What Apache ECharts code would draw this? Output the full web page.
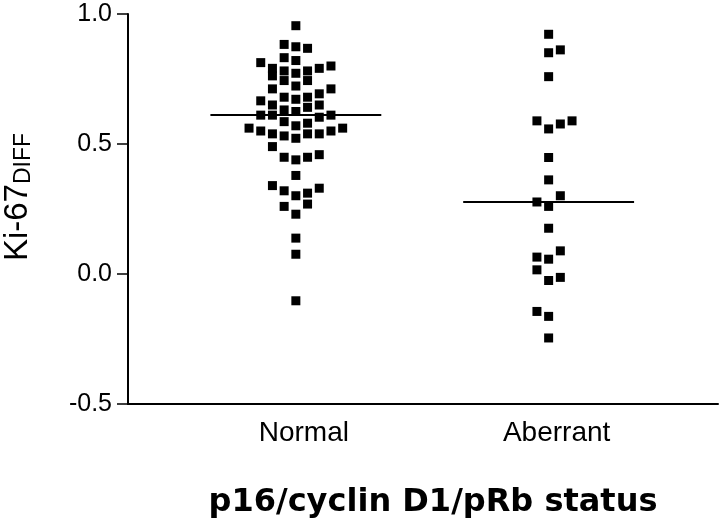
<!DOCTYPE html>
<html>
<head>
<meta charset="utf-8">
<script src="https://cdn.jsdelivr.net/npm/echarts@6/dist/echarts.min.js"></script>
<style>
html,body{margin:0;padding:0;background:#fff;}
#chart{width:720px;height:521px;}
</style>
</head>
<body>
<div id="chart"></div>
<script>
// ---- data ----
const categories = ['Normal', 'Aberrant'];
const categoryPositions = [1, 2];

// Ki-67 DIFF values and their beeswarm column (offset index) per point
const normalValues = [0.955,0.883,0.874,0.868,0.813,0.832,0.821,0.791,0.762,0.781,0.772,0.781,0.791,0.800,
  0.744,0.723,0.744,0.712,0.712,0.680,0.672,0.680,0.693,0.666,0.650,0.641,0.650,0.631,0.625,
  0.611,0.611,0.603,0.611,0.586,0.570,0.580,0.561,0.550,0.539,0.531,0.522,0.539,0.539,0.550,0.561,
  0.490,0.449,0.439,0.449,0.459,0.379,0.340,0.320,0.301,0.311,0.330,0.260,0.269,0.230,0.138,0.076,-0.103];
const normalCols = [0,-1,0,1,-3,-1,0,-2,-2,-1,0,1,2,3,
  -1,0,1,-2,3,-1,0,1,2,-3,-2,1,2,-1,0,
  -3,-2,2,3,-1,0,1,-4,-3,-2,-1,0,1,2,3,4,
  -2,-1,0,1,2,0,-2,-1,0,1,2,-1,1,0,0,0,0];

const aberrantValues = [0.922,0.851,0.862,0.759,0.589,0.558,0.577,0.589,0.448,0.362,0.301,0.277,0.260,
  0.176,0.089,0.065,0.057,0.016,-0.025,-0.013,-0.144,-0.163,-0.246];
const aberrantCols = [0,0,1,0,-1,0,1,2,0,0,1,-1,0,0,1,-1,0,-1,0,1,-1,0,0];

const groupMeans = [0.612, 0.277];

const yTickValues = [-0.5, 0.0, 0.5, 1.0];
const yAxisTitle = 'Ki-67';
const yAxisSub = 'DIFF';
const xAxisTitle = 'p16/cyclin D1/pRb status';

// ---- layout constants ----
const swarmStep = 0.0463;   // horizontal spacing of beeswarm columns (axis units)
const meanHalfWidth = 0.338; // half length of the mean bars (axis units)

const normalData = normalValues.map((v, i) => [categoryPositions[0] + normalCols[i] * swarmStep, v]);
const aberrantData = aberrantValues.map((v, i) => [categoryPositions[1] + aberrantCols[i] * swarmStep, v]);

const meanSeries = groupMeans.map((m, i) => ({
  type: 'line',
  data: [[categoryPositions[i] - meanHalfWidth, m], [categoryPositions[i] + meanHalfWidth, m]],
  symbol: 'none',
  lineStyle: { color: '#000', width: 2 },
  silent: true,
  animation: false,
  z: 1
}));

const chart = echarts.init(document.getElementById('chart'), null, { renderer: 'canvas' });
chart.setOption({
  backgroundColor: '#fff',
  animation: false,
  grid: { left: 128, right: 2, top: 14, bottom: 117, containLabel: false, outerBoundsMode: 'none' },
  xAxis: {
    type: 'value',
    min: 0.336,
    max: 2.67,
    splitLine: { show: false },
    axisTick: { show: false },
    axisLine: { onZero: false, lineStyle: { color: '#000', width: 2 } },
    axisLabel: {
      customValues: categoryPositions,
      formatter: (v) => categories[categoryPositions.indexOf(Math.round(v))] || '',
      color: '#000',
      fontFamily: 'Liberation Sans, Arial, sans-serif',
      fontSize: 28,
      margin: 15,
      padding: [0, 0, 0, 16]
    },
    name: xAxisTitle,
    nameLocation: 'middle',
    nameGap: 83,
    nameTextStyle: {
      color: '#000',
      fontFamily: 'DejaVu Sans, sans-serif',
      fontWeight: 'bold',
      fontSize: 32,
      padding: [0, 0, 0, 20]
    }
  },
  yAxis: {
    type: 'value',
    min: yTickValues[0],
    max: yTickValues[yTickValues.length - 1],
    interval: 0.5,
    splitLine: { show: false },
    axisLine: { show: true, onZero: false, lineStyle: { color: '#000', width: 2 } },
    axisTick: { show: true, length: 11, lineStyle: { color: '#000', width: 1.5 } },
    axisLabel: {
      color: '#000',
      fontFamily: 'Liberation Sans, Arial, sans-serif',
      fontSize: 25,
      margin: 16,
      formatter: (v) => v.toFixed(1)
    },
    name: '{a|' + yAxisTitle + '}{b|' + yAxisSub + '}',
    nameLocation: 'middle',
    nameRotate: 90,
    nameGap: 93,
    nameTextStyle: {
      padding: [0, 0, 0, 24],
      rich: {
        a: { fontFamily: 'Liberation Sans, Arial, sans-serif', fontSize: 33, color: '#000', lineHeight: 34 },
        b: { fontFamily: 'Liberation Sans, Arial, sans-serif', fontSize: 23, color: '#000', verticalAlign: 'bottom', lineHeight: 34 }
      }
    }
  },
  series: [
    ...meanSeries,
    {
      type: 'scatter',
      name: categories[0],
      data: normalData,
      symbol: 'rect',
      symbolSize: 9,
      itemStyle: { color: '#000', opacity: 1 },
      z: 2
    },
    {
      type: 'scatter',
      name: categories[1],
      data: aberrantData,
      symbol: 'rect',
      symbolSize: 9,
      itemStyle: { color: '#000', opacity: 1 },
      z: 2
    }
  ]
});
</script>
</body>
</html>
